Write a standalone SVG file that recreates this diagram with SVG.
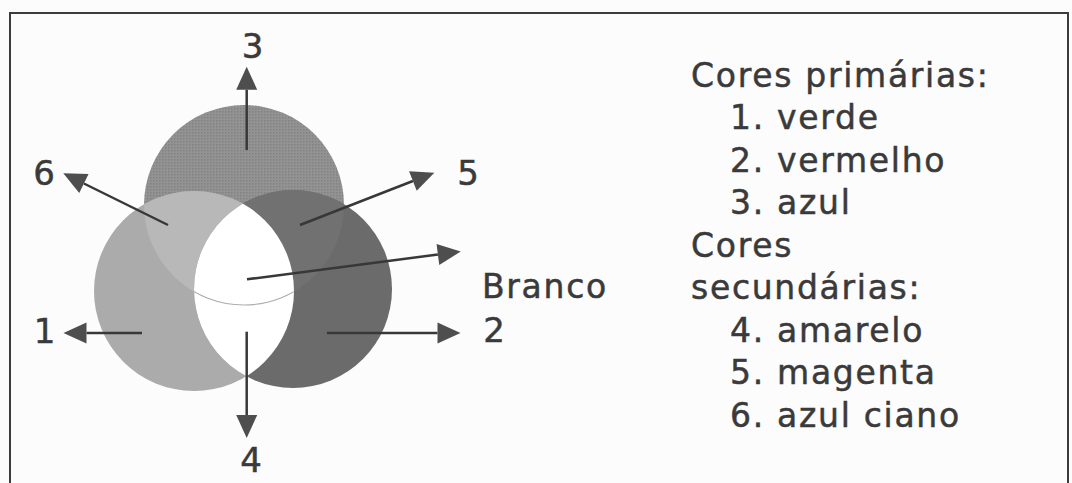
<svg xmlns="http://www.w3.org/2000/svg" width="1072" height="483" viewBox="0 0 1072 483">
  <style>
    .lbl { font-family: "DejaVu Sans", Verdana, sans-serif; font-size: 34px; fill: #3a3a3a; stroke: #3a3a3a; stroke-width: 0.5px; text-anchor: middle; }
    .txt { font-family: "DejaVu Sans", Verdana, sans-serif; font-size: 33px; fill: #3a3a3a; stroke: #3a3a3a; stroke-width: 0.5px; letter-spacing: 1.7px; }
    .arr { stroke: #383838; stroke-width: 2.5; fill: none; marker-end: url(#head); }
  </style>
  <defs>
    <marker id="head" markerUnits="userSpaceOnUse" markerWidth="24" markerHeight="22" refX="0" refY="10.5" orient="auto" overflow="visible">
      <path d="M0,0 L23,10.5 L0,21 Z" fill="#4e4e4e"/>
    </marker>
    <pattern id="dither" patternUnits="userSpaceOnUse" width="3" height="3">
      <rect width="3" height="3" fill="#939393"/>
      <rect width="1.5" height="1.5" fill="#828282"/>
    </pattern>
    <clipPath id="clipTop"><circle cx="244" cy="205" r="100"/></clipPath>
    <clipPath id="clipLeft"><circle cx="194" cy="291" r="100"/></clipPath>
    <clipPath id="clipRight"><circle cx="293" cy="289" r="99"/></clipPath>
  </defs>

  <rect x="0" y="0" width="1072" height="483" fill="#fcfcfc"/>
  <path id="frame" d="M10,483 L10,13 L1068,13 L1068,483" fill="none" stroke="#3c3c3c" stroke-width="2"/>

  <g id="circle-blue">
    <circle cx="244" cy="205" r="100" fill="url(#dither)"/>
  </g>
  <g id="circle-green">
    <circle cx="194" cy="291" r="100" fill="#ababab"/>
  </g>
  <g id="circle-red">
    <circle cx="293" cy="289" r="99" fill="#6b6b6b"/>
  </g>
  <g id="region-cyan">
    <circle cx="194" cy="291" r="100" fill="#b8b8b8" clip-path="url(#clipTop)"/>
  </g>
  <g id="region-magenta">
    <circle cx="293" cy="289" r="99" fill="#717171" clip-path="url(#clipTop)"/>
  </g>
  <g id="region-white">
    <g clip-path="url(#clipLeft)">
      <circle cx="293" cy="289" r="99" fill="#ffffff"/>
      <circle cx="244" cy="205" r="100" fill="none" stroke="#adadad" stroke-width="1.2" clip-path="url(#clipRight)"/>
    </g>
  </g>

  <g id="connectors">
    <line class="arr" x1="246.7" y1="150" x2="246.7" y2="89.7"/>
    <line class="arr" x1="246.7" y1="331.7" x2="246.7" y2="415"/>
    <line class="arr" x1="142" y1="333" x2="86.5" y2="333"/>
    <line class="arr" x1="327" y1="333" x2="437.5" y2="333"/>
    <line class="arr" x1="168" y1="225" x2="83.9" y2="183.5"/>
    <line class="arr" x1="300" y1="225" x2="412.9" y2="181"/>
    <line class="arr" x1="247" y1="279.3" x2="437.9" y2="254.5"/>
  </g>

  <g id="labels">
    <text class="lbl" x="252.5" y="58">3</text>
    <text class="lbl" x="44" y="185">6</text>
    <text class="lbl" x="468" y="185">5</text>
    <text class="lbl" x="44.5" y="343">1</text>
    <text class="lbl" x="494" y="342">2</text>
    <text class="lbl" x="251" y="472">4</text>
    <text class="txt" x="482" y="298">Branco</text>
  </g>

  <g id="legend">
    <text class="txt" x="691" y="86.7">Cores primárias:</text>
    <text class="txt" x="730" y="129.2">1. verde</text>
    <text class="txt" x="730" y="171.7">2. vermelho</text>
    <text class="txt" x="730" y="214.2">3. azul</text>
    <text class="txt" x="691" y="256.7">Cores</text>
    <text class="txt" x="691" y="299.2">secundárias:</text>
    <text class="txt" x="730" y="341.7">4. amarelo</text>
    <text class="txt" x="730" y="384.2">5. magenta</text>
    <text class="txt" x="730" y="426.7">6. azul ciano</text>
  </g>
</svg>
